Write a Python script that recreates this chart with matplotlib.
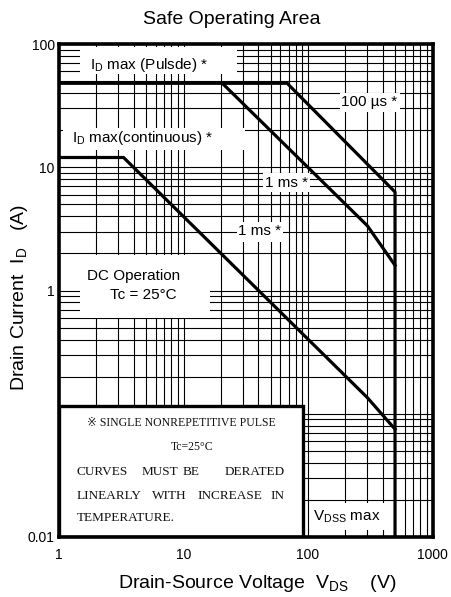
import matplotlib.pyplot as plt
from matplotlib.patches import Rectangle
from matplotlib.ticker import FixedLocator, FixedFormatter, LogLocator, NullFormatter

plt.rcParams['font.family'] = ['Liberation Sans', 'DejaVu Sans']
plt.rcParams['mathtext.default'] = 'regular'

# SOA boundaries, drain-source voltage (V) vs drain current (A)
us100_v = [1, 68, 500, 500]
us100_i = [48, 48, 6.3, 0.01]
ms1_v = [20.5, 300, 500]
ms1_i = [48, 3.35, 1.6]
dc_v = [1, 3.3, 300, 500]
dc_i = [12, 12, 0.135, 0.075]

x_ticks = [1, 10, 100, 1000]
x_labels = ['1', '10', '100', '1000']
y_ticks = [0.01, 0.1, 1, 10, 100]
y_labels = ['0.01', '', '1', '10', '100']

note_lines = [
    ['CURVES', 'MUST', 'BE', 'DERATED'],
    ['LINEARLY', 'WITH', 'INCREASE', 'IN'],
]


def white_box(ax, x0, y0, x1, y1, edge='none', lw=0):
    r = Rectangle((x0, y0), x1 - x0, y1 - y0, transform=ax.transAxes,
                  facecolor='white', edgecolor=edge, linewidth=lw, zorder=2)
    ax.add_patch(r)


fig = plt.figure(figsize=(4.51, 5.97), dpi=100)
ax = fig.add_axes([59 / 451, 60 / 597, 373.5 / 451, 493 / 597])

ax.set_xscale('log')
ax.set_yscale('log')
ax.set_xlim(1, 1000)
ax.set_ylim(0.01, 100)

ax.xaxis.set_major_locator(FixedLocator(x_ticks))
ax.xaxis.set_major_formatter(FixedFormatter(x_labels))
ax.yaxis.set_major_locator(FixedLocator(y_ticks))
ax.yaxis.set_major_formatter(FixedFormatter(y_labels))
for axis in (ax.xaxis, ax.yaxis):
    axis.set_minor_locator(LogLocator(base=10, subs=range(2, 10), numticks=20))
    axis.set_minor_formatter(NullFormatter())
ax.tick_params(which='both', length=0, labelsize=10)
ax.tick_params(axis='x', pad=8)
ax.tick_params(axis='y', pad=3)

ax.set_axisbelow(True)
ax.grid(which='both', color='black', linewidth=0.8)
for s in ax.spines.values():
    s.set_linewidth(2.6)
    s.set_zorder(6)

# label backgrounds
white_box(ax, 0.056, 0.939, 0.477, 0.994)
white_box(ax, 0.011, 0.785, 0.498, 0.830)
white_box(ax, 0.056, 0.444, 0.404, 0.572)
white_box(ax, 0.752, 0.862, 0.913, 0.901)
white_box(ax, 0.546, 0.700, 0.672, 0.738)
white_box(ax, 0.477, 0.598, 0.600, 0.639)
white_box(ax, 0.672, 0.014, 0.892, 0.069)
white_box(ax, 0.0, 0.0, 0.653, 0.266, edge='black', lw=2.4)

ax.plot(us100_v, us100_i, color='black', linewidth=2.3, zorder=4)
ax.plot(ms1_v, ms1_i, color='black', linewidth=2.3, zorder=4)
ax.plot(dc_v, dc_i, color='black', linewidth=2.3, zorder=4)

kw = dict(transform=ax.transAxes, fontsize=11, va='center', zorder=5)
ax.text(0.083, 0.957, r'I$_D$ max (Pulsde) *', ha='left', **kw)
ax.text(0.035, 0.809, r'I$_D$ max(continuous) *', ha='left', **kw)
ax.text(0.831, 0.882, '100 µs *', ha='center', **kw)
ax.text(0.608, 0.718, '1 ms *', ha='center', **kw)
ax.text(0.538, 0.620, '1 ms *', ha='center', **kw)
ax.text(0.075, 0.529, 'DC Operation', ha='left', **kw)
ax.text(0.137, 0.490, 'Tc = 25°C', ha='left', **kw)
ax.text(0.680, 0.040, r'V$_{DSS}$ max', ha='left', **kw)

nkw = dict(transform=ax.transAxes, va='center', zorder=5, color='#111111',
           family=['Liberation Serif', 'DejaVu Sans'])
ax.text(0.327, 0.231, '※ SINGLE NONREPETITIVE PULSE', ha='center', fontsize=8.5, **nkw)
ax.text(0.356, 0.183, 'Tc=25°C', ha='center', fontsize=8.5, **nkw)
word_x = [[0.048, 0.222, 0.332, 0.605], [0.048, 0.249, 0.372, 0.605]]
for words, xs, y in zip(note_lines, word_x, [0.132, 0.083]):
    for j, (w, x) in enumerate(zip(words, xs)):
        ax.text(x, y, w, ha='right' if j == len(words) - 1 else 'left',
                fontsize=9.5, **nkw)
ax.text(0.048, 0.038, 'TEMPERATURE.', ha='left', fontsize=9.5, **nkw)

fig.text(0.514, 0.968, 'Safe Operating Area', ha='center', va='center', fontsize=14)
fig.text(0.571, 0.022, r'Drain-Source Voltage  V$_{DS}$    (V)', ha='center', va='center', fontsize=14)
fig.text(0.044, 0.502, r'Drain Current  I$_D$   (A)', ha='center', va='center',
         rotation=90, fontsize=14)

plt.savefig('out.png', dpi=100)
